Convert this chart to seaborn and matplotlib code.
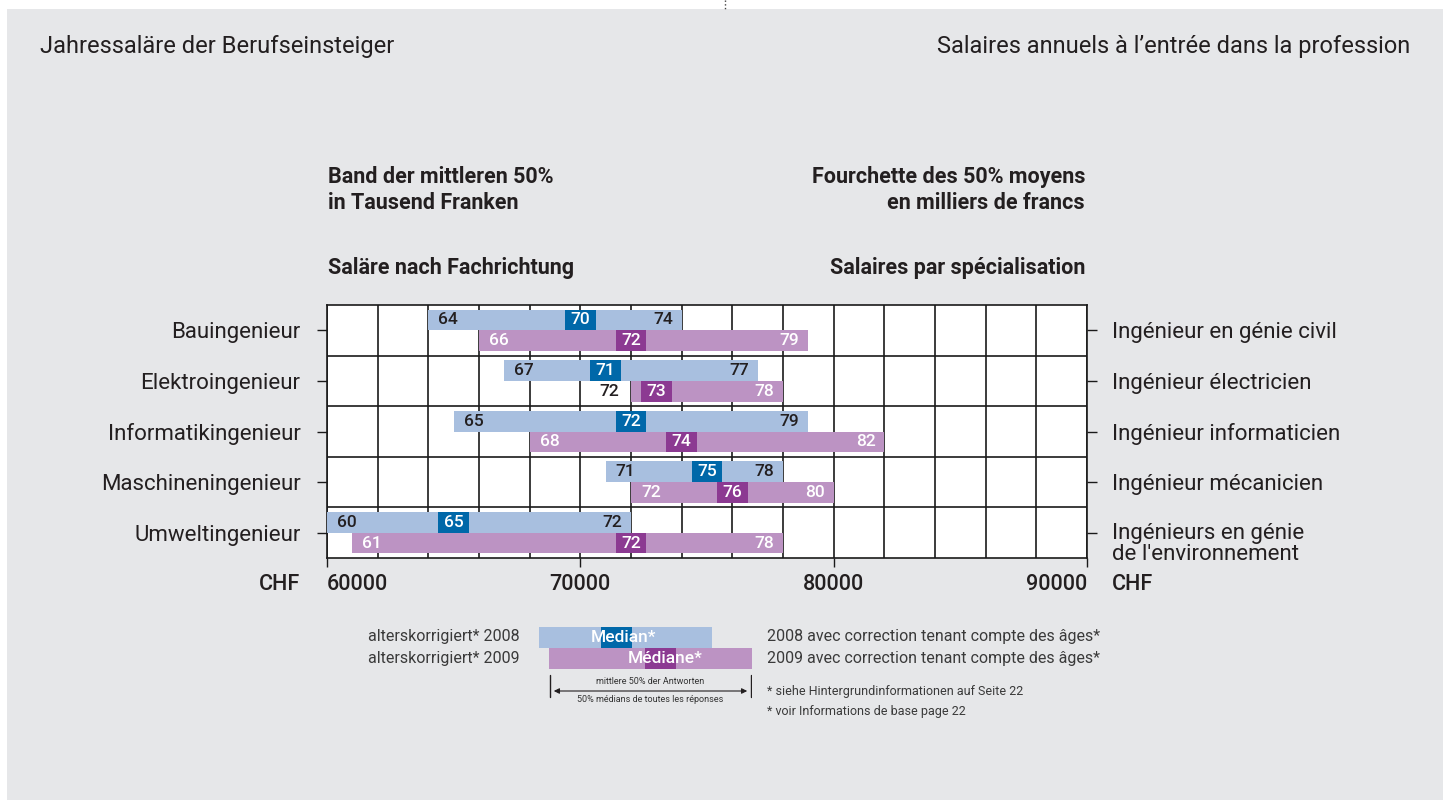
import matplotlib
matplotlib.use('Agg')
import matplotlib.pyplot as plt
import seaborn as sns
import pandas as pd
from matplotlib.ticker import MultipleLocator, FixedLocator
from matplotlib.patches import Rectangle
from matplotlib.lines import Line2D

# Daten (in Tausend Franken)
fach_de = ['Bauingenieur', 'Elektroingenieur', 'Informatikingenieur',
           'Maschineningenieur', 'Umweltingenieur']
fach_fr = ['Ingénieur en génie civil', 'Ingénieur électricien',
           'Ingénieur informaticien', 'Ingénieur mécanicien',
           "Ingénieurs en génie\nde l'environnement"]
low_2008 = [64, 67, 65, 71, 60]
med_2008 = [70, 71, 72, 75, 65]
high_2008 = [74, 77, 79, 78, 72]
low_2009 = [66, 72, 68, 72, 61]
med_2009 = [72, 73, 74, 76, 72]
high_2009 = [79, 78, 82, 80, 78]
x_ticks = [60000, 70000, 80000, 90000]
x_ticklabels = ['60000', '70000', '80000', '90000']

df = pd.concat([
    pd.DataFrame({'fach': fach_de, 'jahr': 2008, 'low': low_2008, 'med': med_2008, 'high': high_2008}),
    pd.DataFrame({'fach': fach_de, 'jahr': 2009, 'low': low_2009, 'med': med_2009, 'high': high_2009}),
], ignore_index=True)

sns.set_theme(style='white')
plt.rcParams['font.family'] = ['Roboto', 'DejaVu Sans']

BG = '#e6e7e9'
TXT = '#231f20'
farben = {2008: ('#a8bfdf', '#0068a9', TXT), 2009: ('#bc93c3', '#8c3a92', 'white')}
offset = {2008: -0.205, 2009: 0.205}

W, H = 1443, 800
fig = plt.figure(figsize=(W / 100, H / 100), dpi=100)
fig.patch.set_facecolor('white')
fig.patches.append(Rectangle((7 / W, 0), 1, 1 - 9 / H, transform=fig.transFigure,
                             facecolor=BG, edgecolor='none', zorder=-10))
fig.add_artist(Line2D([725 / W, 725 / W], [1, 1 - 9 / H], transform=fig.transFigure,
                      ls=':', color='#444444', lw=1))

ax = fig.add_axes([327 / W, 1 - 558 / H, 760 / W, 253 / H])
ax.set_facecolor('white')

for _, r in df.iterrows():
    i = fach_de.index(r['fach'])
    y = i + offset[r['jahr']]
    hell, dunkel, tcol = farben[r['jahr']]
    ax.barh(y, (r['high'] - r['low']) * 1000, left=r['low'] * 1000, height=0.41,
            color=hell, edgecolor='none', linewidth=0, zorder=3)
    ax.barh(y, 1200, left=r['med'] * 1000 - 600, height=0.41, color=dunkel,
            edgecolor='none', linewidth=0, zorder=4)
    ax.text(r['med'] * 1000, y, str(r['med']), ha='center', va='center',
            color='white', fontsize=12.5, fontweight='medium', zorder=5)
    if r['med'] - r['low'] < 1.5:
        ax.text(r['low'] * 1000 - 450, y, str(r['low']), ha='right', va='center',
                color=TXT, fontsize=12.5, fontweight='medium', zorder=5)
    else:
        ax.text(r['low'] * 1000 + 400, y, str(r['low']), ha='left', va='center',
                color=tcol, fontsize=12.5, fontweight='medium', zorder=5)
    ax.text(r['high'] * 1000 - 350, y, str(r['high']), ha='right', va='center',
            color=tcol, fontsize=12.5, fontweight='medium', zorder=5)

ax.set_xlim(60000, 90000)
ax.set_ylim(4.5, -0.5)
ax.xaxis.set_major_locator(FixedLocator(x_ticks))
ax.xaxis.set_minor_locator(MultipleLocator(2000))
ax.set_xticklabels(x_ticklabels)
ax.set_yticks(range(len(fach_de)))
ax.set_yticklabels(fach_de)
ax.set_yticks([0.5, 1.5, 2.5, 3.5], minor=True)
ax.grid(which='both', axis='x', color='#1a1a1a', lw=1.2, zorder=1)
ax.grid(which='minor', axis='y', color='#1a1a1a', lw=1.2, zorder=1)
ax.grid(which='major', axis='y', visible=False)
ax.set_axisbelow(True)
for s in ax.spines.values():
    s.set_color('#1a1a1a')
    s.set_linewidth(1.2)

ax.tick_params(axis='y', which='major', left=True, direction='out', length=7,
               width=1, color='#1a1a1a', labelsize=16, labelcolor=TXT, pad=12)
ax.tick_params(axis='y', which='minor', length=0)
ax.tick_params(axis='x', which='major', bottom=True, direction='out', length=6.5,
               width=1, color='#1a1a1a', labelsize=15.5, labelcolor=TXT, pad=5)
ax.tick_params(axis='x', which='minor', length=0)
xl = ax.get_xticklabels()
xl[0].set_ha('left')
xl[-1].set_ha('right')
for t in xl:
    t.set_fontweight('medium')
ax.set_xlabel('')
ax.set_ylabel('')

ax2 = ax.twinx()
ax2.set_ylim(ax.get_ylim())
ax2.set_yticks(range(len(fach_fr)))
ax2.set_yticklabels(fach_fr[:-1] + [''])
ax2.tick_params(axis='y', right=True, direction='out', length=7, width=1,
                color='#1a1a1a', labelsize=16, labelcolor=TXT, pad=11)
ax2.grid(False)
for s in ax2.spines.values():
    s.set_visible(False)
ax2.text(1 + 25 / 760, 4 - 0.2, fach_fr[-1], transform=ax2.get_yaxis_transform(),
         ha='left', va='top', fontsize=16, color=TXT, linespacing=1.05)

# Titel
fig.text(40 / W, 1 - 47 / H, 'Jahressaläre der Berufseinsteiger', fontsize=17,
         color=TXT, va='center')
fig.text(1410 / W, 1 - 47 / H, 'Salaires annuels à l\u2019entrée dans la profession',
         fontsize=17, color=TXT, va='center', ha='right')
fig.text(328 / W, 1 - 190 / H, 'Band der mittleren 50%\nin Tausend Franken',
         fontsize=15.5, fontweight='bold', color=TXT, va='center', linespacing=1.2)
fig.text(1085 / W, 1 - 190 / H, 'Fourchette des 50% moyens\nen milliers de francs',
         fontsize=15.5, fontweight='bold', color=TXT, va='center', ha='right',
         multialignment='right', linespacing=1.2)
fig.text(328 / W, 1 - 268 / H, 'Saläre nach Fachrichtung', fontsize=15.5,
         fontweight='bold', color=TXT, va='center')
fig.text(1085 / W, 1 - 268 / H, 'Salaires par spécialisation', fontsize=15.5,
         fontweight='bold', color=TXT, va='center', ha='right')
fig.text(300 / W, 1 - 585 / H, 'CHF', fontsize=15.5, color=TXT, va='center', ha='right',
         fontweight='medium')
fig.text(1112 / W, 1 - 585 / H, 'CHF', fontsize=15.5, color=TXT, va='center', ha='left',
         fontweight='medium')

# Legende
lg = fig.add_axes([539 / W, 1 - 705 / H, 213 / W, 78 / H])
lg.set_xlim(0, 213)
lg.set_ylim(78, 0)
lg.axis('off')
lg.add_patch(Rectangle((0, 0), 173, 21, color=farben[2008][0], lw=0))
lg.add_patch(Rectangle((62, 0), 31, 21, color=farben[2008][1], lw=0))
lg.text(84, 10.5, 'Median*', ha='center', va='center', color='white', fontsize=12.5,
        fontweight='medium')
lg.add_patch(Rectangle((10, 21), 203, 21, color=farben[2009][0], lw=0))
lg.add_patch(Rectangle((106, 21), 31, 21, color=farben[2009][1], lw=0))
lg.text(126, 31.5, 'Médiane*', ha='center', va='center', color='white', fontsize=12.5,
        fontweight='medium')
lg.plot([11, 11], [48, 70], color=TXT, lw=1)
lg.plot([212, 212], [48, 70], color=TXT, lw=1)
lg.annotate('', xy=(12, 64), xytext=(211, 64),
            arrowprops=dict(arrowstyle='<|-|>', color=TXT, lw=0.8, mutation_scale=8))
lg.text(111.5, 55, 'mittlere 50% der Antworten', ha='center', va='center',
        fontsize=6.5, color='#333333')
lg.text(111.5, 73, '50% médians de toutes les réponses', ha='center', va='center',
        fontsize=6.5, color='#333333')

fig.text(520 / W, 1 - 637 / H, 'alterskorrigiert* 2008', fontsize=11.5, color='#3a3a3a',
         ha='right', va='center')
fig.text(520 / W, 1 - 658 / H, 'alterskorrigiert* 2009', fontsize=11.5, color='#3a3a3a',
         ha='right', va='center')
fig.text(767 / W, 1 - 637 / H, '2008 avec correction tenant compte des âges*',
         fontsize=11.5, color='#3a3a3a', va='center')
fig.text(767 / W, 1 - 658 / H, '2009 avec correction tenant compte des âges*',
         fontsize=11.5, color='#3a3a3a', va='center')
fig.text(767 / W, 1 - 692 / H, '* siehe Hintergrundinformationen auf Seite 22',
         fontsize=9, color='#3a3a3a', va='center')
fig.text(767 / W, 1 - 712 / H, '* voir Informations de base page 22',
         fontsize=9, color='#3a3a3a', va='center')

fig.savefig('out.png', dpi=100, facecolor=fig.get_facecolor())
